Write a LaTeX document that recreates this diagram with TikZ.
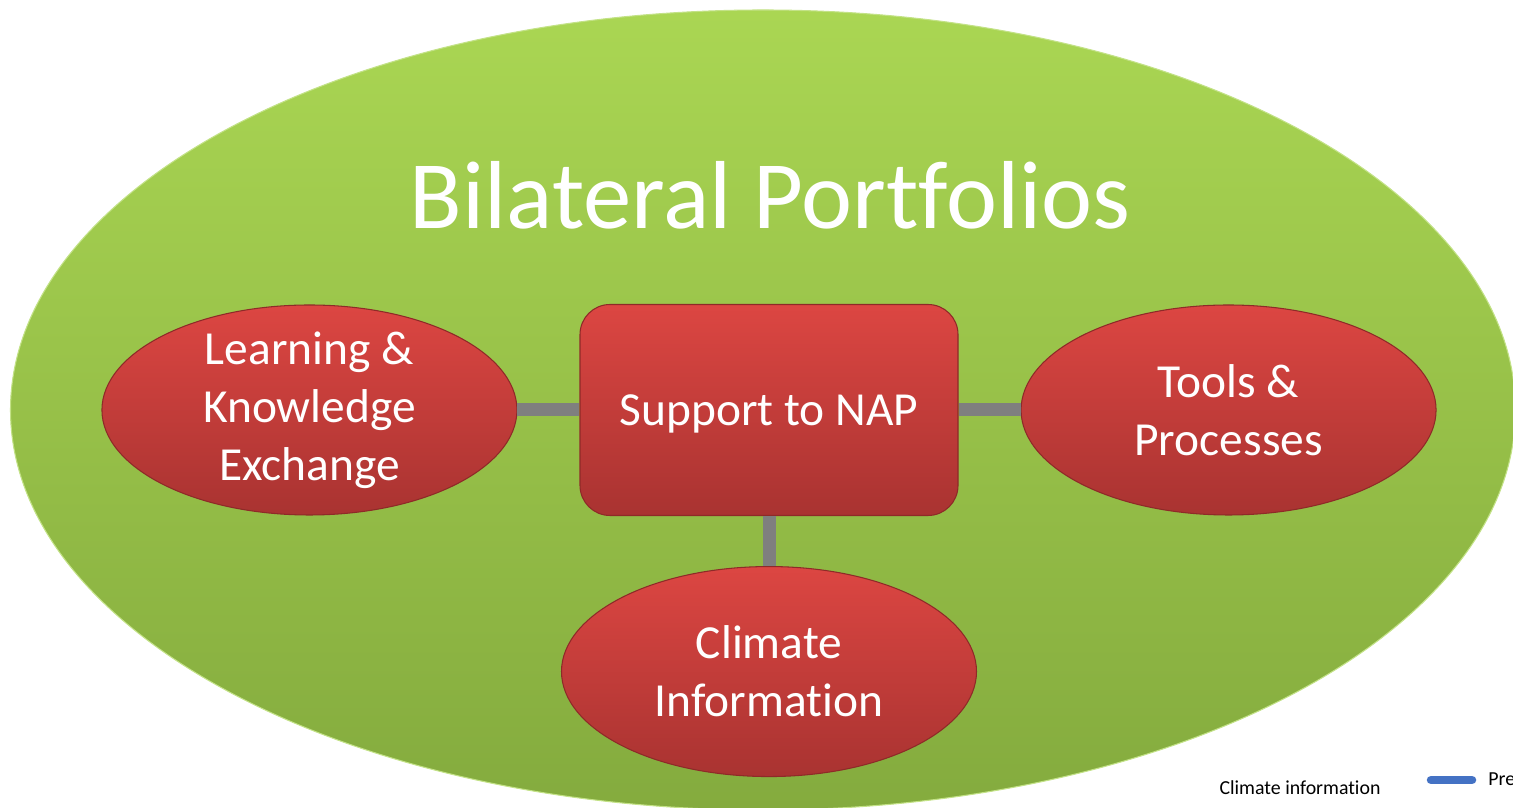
\documentclass[tikz,border=0pt]{standalone}
\usepackage{fontspec}
\setmainfont{Carlito}[Ligatures=NoCommon]
\usepackage{tikz}
\usetikzlibrary{positioning,shapes.geometric}

\definecolor{greentop}{HTML}{AAD653}
\definecolor{greenbot}{HTML}{84AB3E}
\definecolor{redtop}{HTML}{DC4642}
\definecolor{redbot}{HTML}{A93331}
\definecolor{redline}{HTML}{8E2A28}
\definecolor{linkgray}{HTML}{7F7F7F}
\definecolor{legendblue}{HTML}{4472C4}

\tikzset{
  portfolio/.style = {ellipse, minimum width=30.1cm, minimum height=16cm,
    top color=greentop, bottom color=greenbot, draw=greentop!70!white, line width=0.6pt},
  redoval/.style = {ellipse, minimum width=8.3cm, minimum height=4.2cm, inner xsep=0pt, inner ysep=-0.25cm,
    top color=redtop, bottom color=redbot, draw=redline, line width=0.6pt,
    text=white, align=center, font=\fontsize{27}{33}\selectfont},
  napbox/.style = {rectangle, rounded corners=0.6cm, minimum width=7.56cm, minimum height=4.22cm,
    top color=redtop, bottom color=redbot, draw=redline, line width=0.6pt, text depth=0pt,
    text=white, font=\fontsize{27}{33}\selectfont},
  link/.style = {draw=linkgray, line width=0.26cm},
}

\begin{document}
\begin{tikzpicture}
  \clip (0,0) rectangle (30.26,16.14);   % page of the reference

  % big ellipse and title
  \node[portfolio] (bilateral) at (15.26,7.94) {};
  \node[text=white, font=\fontsize{55}{62}\selectfont] (title) at (15.4,12.24) {Bilateral Portfolios};

  % centre box and the three ovals
  \node[napbox] (nap) at (15.38,7.94) {Support to NAP};
  \node[redoval, left=1.24cm of nap] (learning) {Learning \&\\Knowledge\\Exchange};
  \node[redoval, right=1.24cm of nap] (tools) {Tools \&\\Processes};
  \node[redoval, below=1cm of nap] (climate) {Climate\\Information};

  % grey links
  \draw[link] (learning.east) -- (nap.west);
  \draw[link] (nap.east) -- (tools.west);
  \draw[link] (nap.south) -- (climate.north);

  % legend fragment, bottom right
  \node[font=\fontsize{11.3}{13}\selectfont] (legclimate) at (26.0,0.38) {Climate information};
  \coordinate (barL) at (28.62,0.54);
  \coordinate (barR) at (29.44,0.54);
  \draw[legendblue, line width=0.17cm, line cap=round] (barL) -- (barR);
  \node[font=\fontsize{11.3}{13}\selectfont, anchor=west, inner sep=0pt] (legpre) at (29.76,0.56) {Pre};
\end{tikzpicture}
\end{document}
